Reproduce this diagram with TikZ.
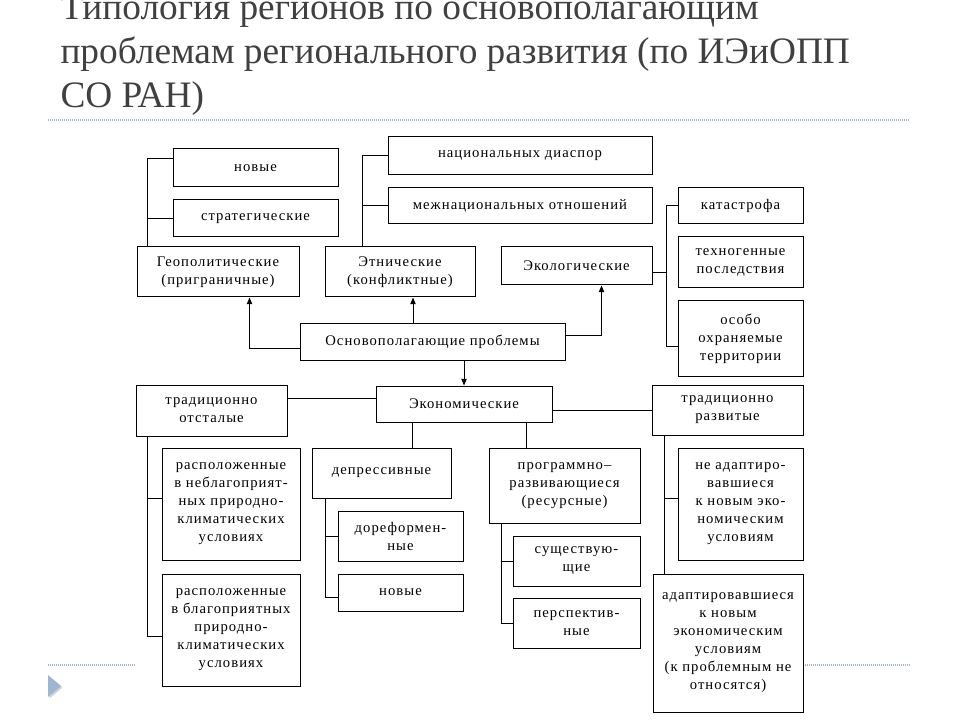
\documentclass[tikz,border=0pt]{standalone}
\usepackage{fontspec}
\setmainfont{Liberation Serif}
\newfontfamily\boxfont[LetterSpace=7]{Liberation Serif}
\usetikzlibrary{calc,arrows.meta}
\definecolor{titlegray}{HTML}{404040}
\definecolor{dotgray}{HTML}{A8B6C4}
\definecolor{bulletblue}{HTML}{9DB7D3}

\begin{document}
\begin{tikzpicture}[x=0.75pt,y=-0.75pt,line width=0.75pt,
	blok/.style n args={2}{draw, minimum width=#1*0.75pt, minimum height=#2*0.75pt, inner sep=1pt, align=center, font=\boxfont\fontsize{11}{13.5}\selectfont},
	arr/.style={-{Triangle[length=5pt,width=4pt]}},
	headline/.style={anchor=base west, inner sep=0, text=titlegray, font=\fontsize{28}{34}\selectfont}]
\useasboundingbox (0,0) rectangle (960,720);

% title
\node[headline] (title1) at (60,20) {Типология регионов по основополагающим};
\node[headline] (title2) at (60,64) {проблемам регионального развития (по ИЭиОПП};
\node[headline] (title3) at (60,108) {СО РАН)};
\draw[dotgray, line width=1pt, dash pattern=on 0.75pt off 0.75pt] (48,120) -- (910,120);
\draw[dotgray, line width=1pt, dash pattern=on 0.75pt off 0.75pt] (48,665) -- (135,665);
\draw[dotgray, line width=1pt, dash pattern=on 0.75pt off 0.75pt] (805,665) -- (910,665);
\fill[gray!35] (49.5,676.5) -- (62.5,687.5) -- (49.5,698.5) -- cycle;
\fill[bulletblue] (48,675) -- (61,686) -- (48,697) -- cycle;

% upper row
\node[blok={165}{38}] (nov1) at (255.5,168) {новые};
\node[blok={165}{37}] (strat) at (255.5,218.5) {стратегические};
\node[blok={162}{50}] (geo) at (218,272) {Геополитические\\(приграничные)};
\node[blok={264}{38}] (diasp) at (520,156) {национальных диаспор};
\node[blok={264}{36}] (mezh) at (520,205.5) {межнациональных отношений};
\node[blok={150}{50}] (etn) at (400,272) {Этнические\\(конфликтные)};
\node[blok={151}{38}] (eko) at (576.5,266) {Экологические};
\node[blok={125}{36}] (katas) at (740.5,206) {катастрофа};
\node[blok={125}{51}] (tehn) at (740.5,262.5) {техногенные\\последствия};
\node[blok={125}{75}] (osobo) at (740.5,338.5) {особо\\охраняемые\\территории};

% centre
\node[blok={265}{37}] (osnov) at (432.5,341.5) {Основополагающие проблемы};
\node[blok={176}{36}] (ekon) at (464,404) {Экономические};
\node[blok={151}{51}] (trot) at (211.5,410.5) {традиционно\\отсталые};
\node[blok={151}{50}] (trrazv) at (727.5,410) {традиционно\\развитые};

% lower row
\node[blok={138}{112}] (nebl) at (231,504) {расположенные\\в неблагоприят-\\ных природно-\\климатических\\условиях};
\node[blok={138}{112}] (blag) at (231,630) {расположенные\\в благоприятных\\природно-\\климатических\\условиях};
\node[blok={139}{50}] (depr) at (381.5,473) {депрессивные};
\node[blok={125}{50}] (doref) at (400.5,536) {дореформен-\\ные};
\node[blok={125}{37}] (novye2) at (400.5,592.5) {новые};
\node[blok={151}{75}] (progr) at (564.5,485.5) {программно–\\развивающиеся\\(ресурсные)};
\node[blok={127}{50}] (susch) at (576.5,561) {существую-\\щие};
\node[blok={127}{50}] (persp) at (576.5,623) {перспектив-\\ные};
\node[blok={125}{112}] (neadapt) at (740.5,504) {не адаптиро-\\вавшиеся\\к новым эко-\\номическим\\условиям};
\node[blok={150}{138}] (adapt) at (728,643) {адаптировавшиеся\\к новым\\экономическим\\условиям\\(к проблемным не\\относятся)};

% upper connectors
\coordinate (geobus) at ($(geo.north west)+(11,0)$);
\draw (geobus) |- ($(nov1.north west)+(0,10)$);
\draw (strat.west) -- (strat.west -| geobus);
\coordinate (etnbus) at ($(etn.north west)+(38,0)$);
\draw (etnbus) |- (diasp.west);
\draw (mezh.west) -- (mezh.west -| etnbus);
\coordinate (ekoout) at ($(eko.east)+(0,7)$);
\coordinate (ekobus) at ($(eko.east)+(14,7)$);
\coordinate (osoboin) at ($(osobo.west)+(0,8)$);
\draw (ekoout) -- (ekobus);
\draw (katas.west) -| (ekobus |- osoboin) -- (osoboin);

% arrows
\coordinate (geoin) at ($(geo.south west)+(113,0)$);
\coordinate (etnin) at ($(etn.south)+(13,0)$);
\coordinate (ekoin) at ($(eko.south)+(25,0)$);
\draw[arr] ($(osnov.west)+(0,7)$) -| (geoin);
\draw[arr] (osnov.north -| etnin) -- (etnin);
\draw[arr] ($(osnov.east)+(0,-6)$) -| (ekoin);
\draw[arr] (osnov.south -| ekon.north) -- (ekon.north);

% economic branch
\coordinate (ekonl) at ($(ekon.west)+(0,-6)$);
\draw (ekonl) -- (ekonl -| trot.east);
\draw (trrazv.west -| ekon.east) -- (trrazv.west);
\coordinate (ekl) at ($(ekon.south west)+(37,0)$);
\coordinate (ekr) at ($(ekon.south east)+(-26,0)$);
\draw (ekl) -- (ekl |- depr.north);
\draw (ekr) -- (ekr |- progr.north);

\coordinate (otbus) at ($(trot.south west)+(12,0)$);
\coordinate (neblin) at ($(nebl.west)+(0,-6)$);
\draw (otbus) |- ($(blag.west)+(0,6)$);
\draw (neblin) -- (neblin -| otbus);

\coordinate (depbus) at ($(depr.south west)+(14,0)$);
\draw (depbus) |- ($(novye2.west)+(0,5)$);
\draw (doref.west) -- (doref.west -| depbus);

\coordinate (prbus) at ($(progr.south west)+(13,0)$);
\draw (prbus) |- (persp.west);
\draw (susch.west) -- (susch.west -| prbus);

\coordinate (razbus) at ($(trrazv.south west)+(13,0)$);
\coordinate (neadin) at ($(neadapt.west)+(0,-6)$);
\draw (razbus) -- (razbus |- adapt.north);
\draw (neadin) -- (neadin -| razbus);
\end{tikzpicture}
\end{document}
